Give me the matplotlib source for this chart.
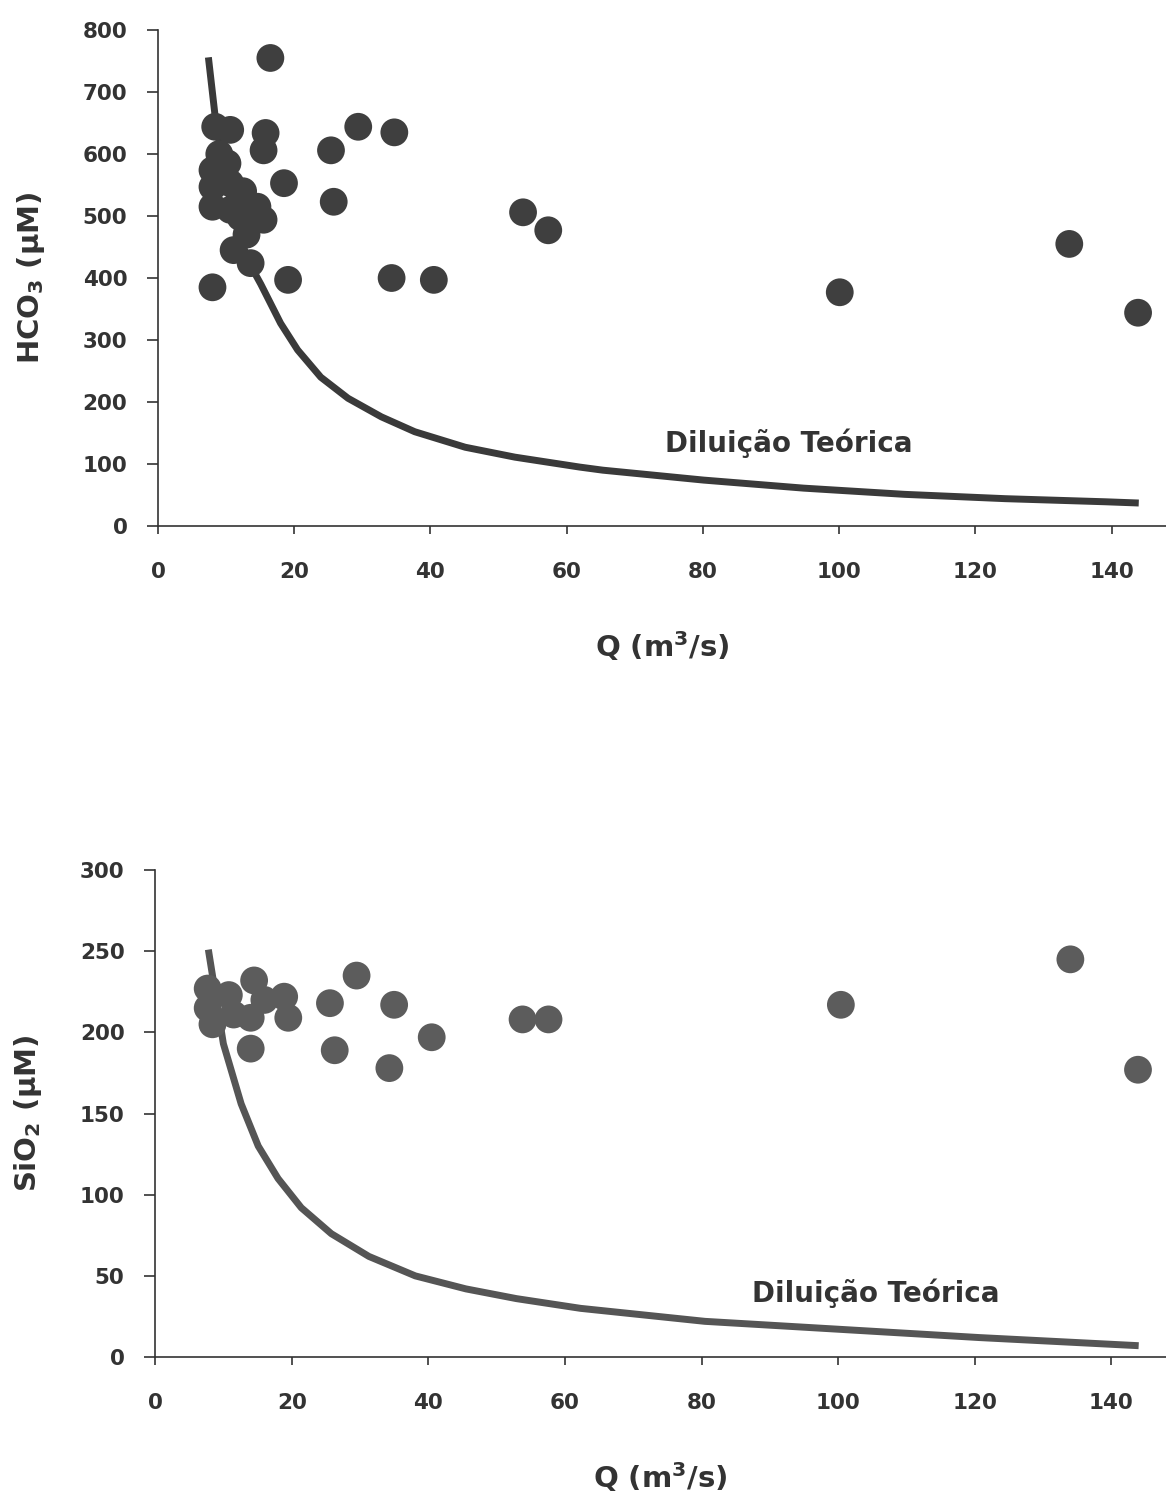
import matplotlib
matplotlib.use("Agg")
import matplotlib.pyplot as plt

plt.rcParams['font.family'] = ['DejaVu Sans']
plt.rcParams['font.weight'] = 'bold'
plt.rcParams['mathtext.default'] = 'regular'

# HCO3 measurements (Q in m3/s, concentration in uM)
q_hco3 = [16.5, 8.4, 10.6, 15.8, 15.5, 8.0, 10.2, 8.0, 10.6, 8.0, 10.6, 14.6, 15.5, 12.1,
          11.1, 13.6, 8.0, 19.1, 18.5, 25.4, 29.4, 34.7, 25.8, 34.3, 40.5, 53.6, 57.3,
          100.1, 133.8, 143.9, 9.0, 12.5, 13.0]
c_hco3 = [755, 644, 639, 634, 606, 574, 585, 547, 553, 515, 510, 515, 494, 498,
          445, 424, 385, 397, 553, 606, 644, 635, 523, 400, 397, 506, 477,
          377, 455, 344, 600, 540, 470]

# theoretical dilution curve for HCO3
q_dil_hco3 = [7.4, 8.4, 9.5, 10.6, 12.1, 13.6, 15.1, 18.0, 20.5, 23.9, 27.9, 32.8, 37.7,
              45.1, 52.4, 61.9, 65.3, 80.1, 94.8, 109.6, 124.4, 139.1, 144.0]
c_dil_hco3 = [756, 660, 585, 525, 462, 420, 390, 327, 284, 240, 206, 176, 152,
              127, 111, 95, 90, 74, 61, 51, 44, 39, 37]

# SiO2 measurements
q_sio2 = [7.7, 7.7, 8.4, 10.8, 11.5, 14.5, 16.0, 18.9, 19.5, 14.0, 14.0, 25.6, 29.5,
          35.0, 26.3, 34.3, 40.5, 53.8, 57.6, 100.4, 134.0, 143.9]
c_sio2 = [227, 215, 205, 223, 211, 232, 220, 222, 209, 209, 190, 218, 235,
          217, 189, 178, 197, 208, 208, 217, 245, 177]

# theoretical dilution curve for SiO2
q_dil_sio2 = [7.8, 10.0, 12.6, 15.1, 18.0, 21.4, 25.8, 31.3, 38.1, 45.5, 52.9, 62.3,
              80.5, 100.6, 120.7, 144.0]
c_dil_sio2 = [251, 193, 156, 130, 110, 92, 76, 62, 50, 42, 36, 30,
              22, 17, 12, 7]

fig = plt.figure(figsize=(11.66, 15.04), dpi=100)
ax1 = fig.add_axes([0.1355, 0.6503, 0.8645, 0.3297])
ax2 = fig.add_axes([0.133, 0.0977, 0.867, 0.3238])


def style(ax, ymax, ystep, ylabel):
    ax.set_xlim(0, 148)
    ax.set_ylim(0, ymax)
    ax.set_xticks(range(0, 141, 20))
    ax.set_yticks(range(0, ymax + 1, ystep))
    for s in ['top', 'right']:
        ax.spines[s].set_visible(False)
    for s in ['left', 'bottom']:
        ax.spines[s].set_linewidth(1.2)
        ax.spines[s].set_color('#333333')
    ax.tick_params(axis='y', direction='out', length=8, width=1.2, pad=14,
                   labelsize=15.5, colors='#333333')
    ax.tick_params(axis='x', direction='out', length=6, width=1.2, pad=20,
                   labelsize=15.5, colors='#333333')
    ax.set_ylabel(ylabel, fontsize=21, fontweight='bold', color='#333333')
    ax.yaxis.set_label_coords(-0.11, 0.5)
    ax.set_xlabel('Q (m$^3$/s)', fontsize=21, fontweight='bold', color='#333333',
                  labelpad=34)


# top panel
ax1.plot(q_dil_hco3, c_dil_hco3, color='#3a3a3a', lw=5, solid_capstyle='butt', zorder=2)
ax1.scatter(q_hco3, c_hco3, s=400, color='#3f3f3f', edgecolors='none', zorder=3,
            clip_on=False)
ax1.text(92.6, 134, 'Diluição Teórica', fontsize=20, fontweight='bold',
         color='#333333', ha='center', va='center')
style(ax1, 800, 100, 'HCO$_3$ ($\\mu$M)')

# bottom panel
ax2.plot(q_dil_sio2, c_dil_sio2, color='#555555', lw=5, solid_capstyle='butt', zorder=2)
ax2.scatter(q_sio2, c_sio2, s=400, color='#5c5c5c', edgecolors='none', zorder=3,
            clip_on=False)
ax2.text(105.5, 39, 'Diluição Teórica', fontsize=20, fontweight='bold',
         color='#333333', ha='center', va='center')
style(ax2, 300, 50, 'SiO$_2$ ($\\mu$M)')

fig.savefig('out.png', dpi=100, facecolor='white')
